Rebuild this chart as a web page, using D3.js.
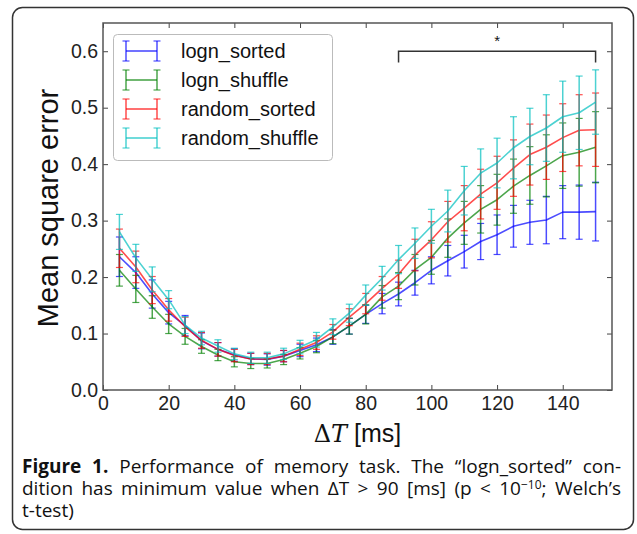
<!DOCTYPE html>
<html>
<head>
<meta charset="utf-8">
<script src="https://cdn.jsdelivr.net/npm/d3@7/dist/d3.min.js"></script>
<style>
  html, body { margin: 0; padding: 0; background: #fff; }
  svg { display: block; }
</style>
</head>
<body>
<svg id="chart" width="637" height="534"></svg>
<script>
// ---- data ----
const dt = [5,10,15,20,25,30,35,40,45,50,55,60,65,70,75,80,85,90,95,100,105,110,115,120,125,130,135,140,145,150];

const seriesNames = ["logn_sorted", "logn_shuffle", "random_sorted", "random_shuffle"];
const seriesColors = ["#0000ff", "#008000", "#ff0000", "#00bfbf"];

const lognSorted      = [0.236,0.208,0.170,0.137,0.114,0.087,0.072,0.062,0.055,0.054,0.060,0.070,0.080,0.094,0.113,0.134,0.153,0.170,0.190,0.212,0.229,0.245,0.263,0.275,0.290,0.297,0.301,0.315,0.315,0.316];
const lognSortedErr   = [0.035,0.028,0.025,0.020,0.018,0.014,0.012,0.011,0.010,0.010,0.010,0.011,0.012,0.013,0.014,0.016,0.018,0.021,0.022,0.024,0.027,0.029,0.032,0.035,0.037,0.039,0.042,0.047,0.048,0.052];

const lognShuffle     = [0.212,0.179,0.147,0.117,0.095,0.077,0.062,0.050,0.047,0.047,0.054,0.065,0.077,0.094,0.113,0.134,0.165,0.184,0.213,0.235,0.269,0.296,0.320,0.337,0.361,0.380,0.397,0.415,0.421,0.430];
const lognShuffleErr  = [0.028,0.024,0.020,0.017,0.014,0.012,0.010,0.009,0.009,0.008,0.009,0.010,0.011,0.012,0.014,0.017,0.020,0.024,0.027,0.030,0.034,0.038,0.042,0.045,0.048,0.051,0.055,0.058,0.060,0.063];

const randomSorted    = [0.251,0.218,0.177,0.142,0.112,0.088,0.072,0.061,0.055,0.055,0.060,0.072,0.084,0.103,0.129,0.153,0.180,0.205,0.239,0.266,0.298,0.322,0.347,0.367,0.393,0.417,0.430,0.447,0.460,0.461];
const randomSortedErr = [0.034,0.028,0.024,0.020,0.017,0.014,0.012,0.011,0.010,0.010,0.010,0.011,0.012,0.013,0.015,0.018,0.021,0.025,0.028,0.032,0.036,0.040,0.044,0.047,0.050,0.054,0.057,0.060,0.063,0.065];

const randomShuffle   = [0.280,0.234,0.196,0.160,0.115,0.092,0.078,0.064,0.057,0.057,0.064,0.076,0.089,0.112,0.136,0.168,0.198,0.231,0.260,0.290,0.317,0.353,0.384,0.402,0.429,0.449,0.464,0.484,0.491,0.510];
const randomShuffleErr= [0.031,0.024,0.022,0.016,0.015,0.012,0.011,0.010,0.010,0.010,0.010,0.012,0.013,0.014,0.016,0.018,0.021,0.025,0.027,0.030,0.037,0.043,0.043,0.044,0.055,0.050,0.059,0.063,0.065,0.057];

const xTicks = [0,20,40,60,80,100,120,140];
const yTicks = [0.0,0.1,0.2,0.3,0.4,0.5,0.6];
const sigRange = [90, 150];
const sigLevel = [0.58, 0.60];

const captionLine1 = ["Figure 1.", " Performance of memory task. The “logn_sorted” con-"];
const captionLine2a = "dition has minimum value when ΔT > 90 [ms] (p < 10";
const captionSup = "−10";
const captionLine2b = "; Welch’s";
const captionLine3 = "t-test)";

// ---- build ----
const series = [
  {name: seriesNames[0], color: seriesColors[0], mean: lognSorted, err: lognSortedErr},
  {name: seriesNames[1], color: seriesColors[1], mean: lognShuffle, err: lognShuffleErr},
  {name: seriesNames[2], color: seriesColors[2], mean: randomSorted, err: randomSortedErr},
  {name: seriesNames[3], color: seriesColors[3], mean: randomShuffle, err: randomShuffleErr}
];

const svg = d3.select("#chart");
const L = 103, R = 612, T = 23, B = 390;
const x = d3.scaleLinear().domain([0,155]).range([L,R]);
const y = d3.scaleLinear().domain([0,0.65]).range([B,T]);
const sans = "'Liberation Sans', Arial, sans-serif";

// outer frame
svg.append("rect").attr("x",12.5).attr("y",7.5).attr("width",621).attr("height",522)
  .attr("rx",10).attr("fill","none").attr("stroke","#333").attr("stroke-width",1.5);

// plot data
const plot = svg.append("g");
const alpha = 0.7;
series.forEach(s => {
  const g = plot.append("g").attr("stroke", s.color).attr("stroke-opacity", alpha).attr("fill","none");
  dt.forEach((t,i) => {
    const lo = y(s.mean[i]-s.err[i]), hi = y(s.mean[i]+s.err[i]), cx = x(t);
    g.append("line").attr("x1",cx).attr("x2",cx).attr("y1",lo).attr("y2",hi).attr("stroke-width",1.5);
    g.append("line").attr("x1",cx-3.5).attr("x2",cx+3.5).attr("y1",lo).attr("y2",lo).attr("stroke-width",1.2);
    g.append("line").attr("x1",cx-3.5).attr("x2",cx+3.5).attr("y1",hi).attr("y2",hi).attr("stroke-width",1.2);
  });
  g.append("path").datum(dt.map((t,i)=>[t,s.mean[i]]))
    .attr("d", d3.line().x(d=>x(d[0])).y(d=>y(d[1])))
    .attr("stroke-width",1.6).attr("stroke-linejoin","round");
});

// axes
const tickCol = "#444";
function styleAxis(g){
  g.select(".domain").remove();
  g.selectAll(".tick line").attr("stroke", tickCol).attr("stroke-width",1);
  g.selectAll(".tick text").attr("fill","#222").attr("font-family",sans).attr("font-size",19.5);
}
svg.append("g").attr("transform",`translate(0,${B})`)
  .call(d3.axisBottom(x).tickValues(xTicks).tickFormat(d3.format("d")).tickSizeInner(-5).tickSizeOuter(0).tickPadding(6.5))
  .call(styleAxis);
svg.append("g").attr("transform",`translate(0,${T})`)
  .call(d3.axisTop(x).tickValues(xTicks).tickFormat("").tickSizeInner(-5).tickSizeOuter(0))
  .call(styleAxis);
svg.append("g").attr("transform",`translate(${L},0)`)
  .call(d3.axisLeft(y).tickValues(yTicks).tickFormat(d3.format(".1f")).tickSizeInner(-5).tickSizeOuter(0).tickPadding(5))
  .call(styleAxis);
svg.append("g").attr("transform",`translate(${R},0)`)
  .call(d3.axisRight(y).tickValues(yTicks).tickFormat("").tickSizeInner(-5).tickSizeOuter(0))
  .call(styleAxis);

// spines
svg.append("rect").attr("x",L).attr("y",T).attr("width",R-L).attr("height",B-T)
  .attr("fill","none").attr("stroke","#555").attr("stroke-width",1.5);

// axis labels
svg.append("text").attr("transform",`translate(48,208) rotate(-90)`)
  .attr("text-anchor","middle").attr("dy","0.35em")
  .attr("font-family",sans).attr("font-size",29).attr("fill","#111").text("Mean square error");

const xl = svg.append("text").attr("x", (L+R)/2).attr("y",442).attr("text-anchor","middle").attr("fill","#111");
xl.append("tspan").attr("font-family","'DejaVu Serif', 'Liberation Serif', serif").attr("font-size",24).text("Δ");
xl.append("tspan").attr("font-family","'DejaVu Serif', 'Liberation Serif', serif").attr("font-style","italic").attr("font-size",24).text("T");
xl.append("tspan").attr("font-family",sans).attr("font-size",25).text(" [ms]");

// significance bracket
svg.append("path")
  .attr("d", `M${x(sigRange[0])},${y(sigLevel[0])}V${y(sigLevel[1])}H${x(sigRange[1])}V${y(sigLevel[0])}`)
  .attr("fill","none").attr("stroke","#333").attr("stroke-width",1.5);
svg.append("text").attr("x", x((sigRange[0]+sigRange[1])/2)).attr("y",46)
  .attr("text-anchor","middle").attr("font-family",sans).attr("font-size",15).attr("fill","#111").text("*");

// legend
const lg = svg.append("g");
lg.append("rect").attr("x",113.5).attr("y",34.5).attr("width",219).attr("height",126).attr("rx",4)
  .attr("fill","#fff").attr("stroke","#bbb").attr("stroke-width",1);
series.forEach((s,i) => {
  const cy = 51 + i*29;
  const g = lg.append("g").attr("stroke",s.color).attr("stroke-opacity",alpha);
  g.append("line").attr("x1",126).attr("x2",157).attr("y1",cy).attr("y2",cy).attr("stroke-width",1.6);
  [126,157].forEach(cx => {
    g.append("line").attr("x1",cx).attr("x2",cx).attr("y1",cy-10).attr("y2",cy+10).attr("stroke-width",1.5);
    g.append("line").attr("x1",cx-3.5).attr("x2",cx+3.5).attr("y1",cy-10).attr("y2",cy-10).attr("stroke-width",1.2);
    g.append("line").attr("x1",cx-3.5).attr("x2",cx+3.5).attr("y1",cy+10).attr("y2",cy+10).attr("stroke-width",1.2);
  });
  lg.append("text").attr("x",181).attr("y",cy).attr("dy","0.35em")
    .attr("font-family",sans).attr("font-size",20).attr("fill","#111").text(s.name);
});

// caption
const capFont = "'Open Sans', 'Noto Sans', sans-serif";
const capSize = 19;
const capL = 22, capR = 621;
const c1 = svg.append("text").attr("x",capL).attr("y",473).attr("font-family",capFont).attr("font-size",capSize).attr("fill","#111");
c1.append("tspan").attr("font-weight","bold").text(captionLine1[0]);
c1.append("tspan").text(captionLine1[1]);
const c2 = svg.append("text").attr("x",capL).attr("y",495).attr("font-family",capFont).attr("font-size",capSize).attr("fill","#111");
c2.append("tspan").text(captionLine2a);
c2.append("tspan").attr("dy",-6).attr("font-size",12).text(captionSup);
c2.append("tspan").attr("dy",6).text(captionLine2b);
svg.append("text").attr("x",capL).attr("y",517).attr("font-family",capFont).attr("font-size",capSize).attr("fill","#111").text(captionLine3);

function justify(t, nSpaces){
  const w = t.node().getComputedTextLength();
  const extra = (capR - capL - w)/nSpaces;
  t.attr("word-spacing", extra);
}
justify(c1, (captionLine1[0]+captionLine1[1]).split(" ").length-1);
justify(c2, (captionLine2a+captionSup+captionLine2b).split(" ").length-1);
</script>
</body>
</html>
